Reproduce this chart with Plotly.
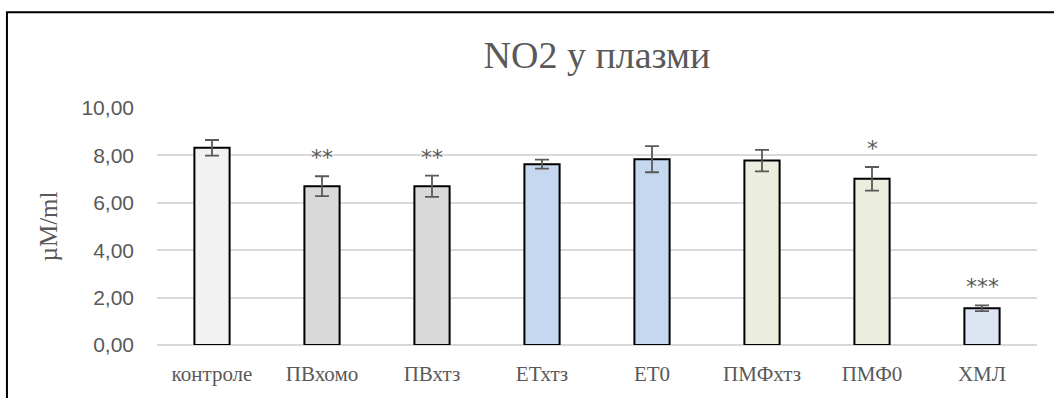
import plotly.graph_objects as go

# NO2 levels in plasma per group (µM/ml), with standard errors
groups = ["контроле", "ПВхомо", "ПВхтз", "ЕТхтз", "ЕТ0", "ПМФхтз", "ПМФ0", "ХМЛ"]
means = [8.32, 6.70, 6.70, 7.63, 7.84, 7.78, 7.01, 1.55]
errors = [0.33, 0.42, 0.45, 0.19, 0.55, 0.45, 0.50, 0.12]
signif = ["", "**", "**", "", "", "", "*", "***"]
fills = ["#F2F2F2", "#D9D9D9", "#D9D9D9", "#C6D8EF", "#C6D8EF", "#EBEEDE", "#EBEEDE", "#DCE6F2"]

SERIF = "Liberation Serif"
SANS = "Liberation Sans"

fig = go.Figure()
fig.add_trace(go.Bar(
    x=groups,
    y=means,
    marker=dict(color=fills, line=dict(color="#000000", width=2)),
    error_y=dict(type="data", array=errors, visible=True,
                 color="#595959", thickness=1.8, width=7),
    width=0.32,
    showlegend=False,
))

# significance marks above the error bars
for g, m, e, s in zip(groups, means, errors, signif):
    if s:
        fig.add_annotation(x=g, y=m + e, text=s, showarrow=False,
                           yanchor="bottom", yshift=4,
                           font=dict(family="DejaVu Sans", size=22, color="#595959"))

# outer chart frame (top and left edges visible)
fig.add_shape(type="rect", xref="paper", yref="paper",
              x0=-0.1705, x1=1.1, y0=-0.3, y1=1.404,
              line=dict(color="#000000", width=2), layer="above")

fig.update_layout(
    width=1054, height=398,
    margin=dict(l=157, r=17, t=108, b=52.5),
    paper_bgcolor="#FFFFFF", plot_bgcolor="#FFFFFF",
    separators=",.",
    title=dict(text="NO2 у плазми", x=0.5, xref="paper", xanchor="center",
               y=(398 - 55) / 398, yanchor="middle",
               font=dict(family=SERIF, size=38, color="#595959")),
    xaxis=dict(showline=False, ticks="", showgrid=False, ticklabelstandoff=14,
               tickfont=dict(family=SERIF, size=21, color="#595959")),
    yaxis=dict(range=[0, 10], dtick=2, tickformat=".2f",
               showgrid=True, gridcolor="#D9D9D9", gridwidth=1.5,
               zeroline=True, zerolinecolor="#D9D9D9", zerolinewidth=1.5,
               showline=False, ticks="", ticklen=0, ticklabelstandoff=22,
               tickfont=dict(family=SANS, size=21, color="#595959"),
               title=dict(text="µM/ml", standoff=16,
                          font=dict(family=SERIF, size=25, color="#595959"))),
)

fig.write_html("out.html")
